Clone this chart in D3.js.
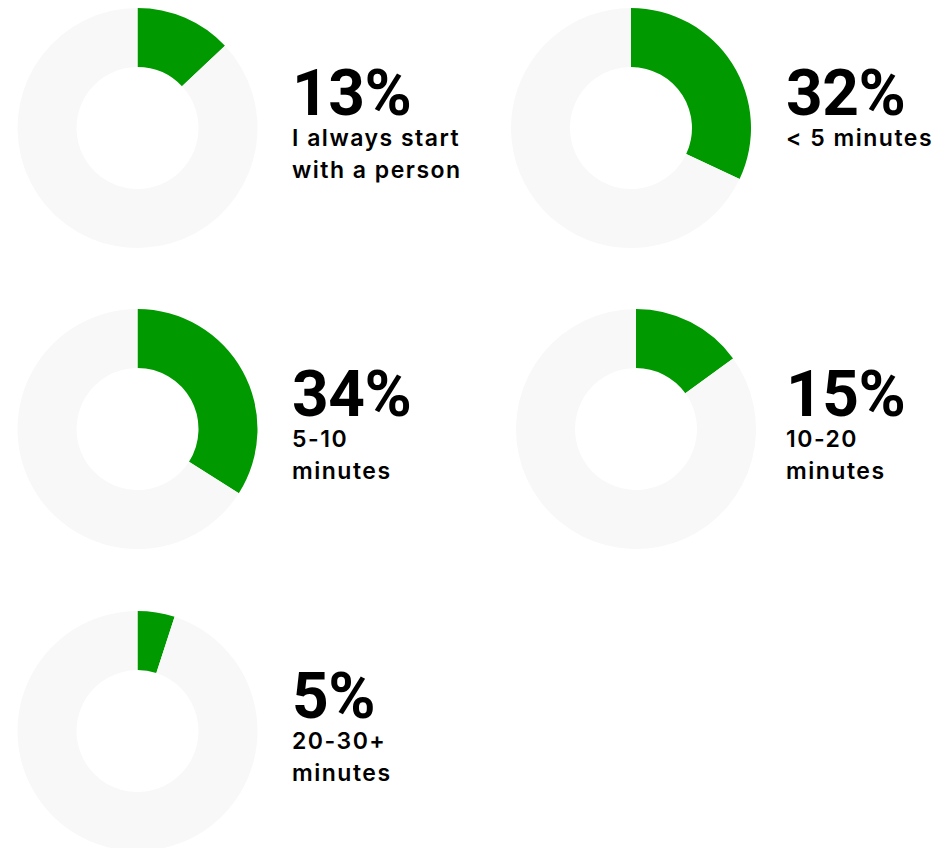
<!DOCTYPE html>
<html>
<head>
<meta charset="utf-8">
<script src="https://cdn.jsdelivr.net/npm/d3@7"></script>
<style>
  html, body { margin: 0; padding: 0; background: #ffffff; }
  svg { display: block; }
  .pct { font-family: Roboto, Inter, sans-serif; font-weight: 700; font-size: 64px; fill: #000; letter-spacing: -0.5px; }
  .lbl { font-family: Inter, "Noto Sans", sans-serif; font-weight: 600; font-size: 23px; fill: #000; letter-spacing: 1.5px; }
</style>
</head>
<body>
<script>
// ---- data ----
const categories = ["I always start with a person", "< 5 minutes", "5-10 minutes", "10-20 minutes", "20-30+ minutes"];
const labelLines = [["I always start", "with a person"], ["< 5 minutes"], ["5-10", "minutes"], ["10-20", "minutes"], ["20-30+", "minutes"]];
const values = [13, 32, 34, 15, 5];

// ---- layout ----
const W = 945, H = 848;
const outerR = 120, innerR = 61;
const centers = [[137.5, 128], [631, 128], [137.5, 429], [636, 429], [137.5, 731]];
const textX = [292, 786, 292, 786, 292];

const svg = d3.select("body").append("svg").attr("width", W).attr("height", H);

const pie = d3.pie().sort(null).value(d => d);
const arc = d3.arc().innerRadius(innerR).outerRadius(outerR);
const color = d3.scaleOrdinal().domain([0, 1]).range(["#009900", "#f8f8f8"]);

values.forEach((v, i) => {
  const g = svg.append("g").attr("transform", `translate(${centers[i][0]},${centers[i][1]})`);
  g.selectAll("path")
    .data(pie([v, 100 - v]))
    .join("path")
    .attr("d", arc)
    .attr("fill", (d, j) => color(j));

  const lines = labelLines[i];
  const pctBase = -13;
  const tg = svg.append("g").attr("transform", `translate(${textX[i]},${centers[i][1]})`);
  tg.append("text").attr("class", "pct").attr("x", 0).attr("y", pctBase).text(v + "%");
  lines.forEach((l, k) => {
    tg.append("text").attr("class", "lbl").attr("x", 0).attr("y", pctBase + 31 + k * 31.5).text(l);
  });
});
</script>
</body>
</html>
